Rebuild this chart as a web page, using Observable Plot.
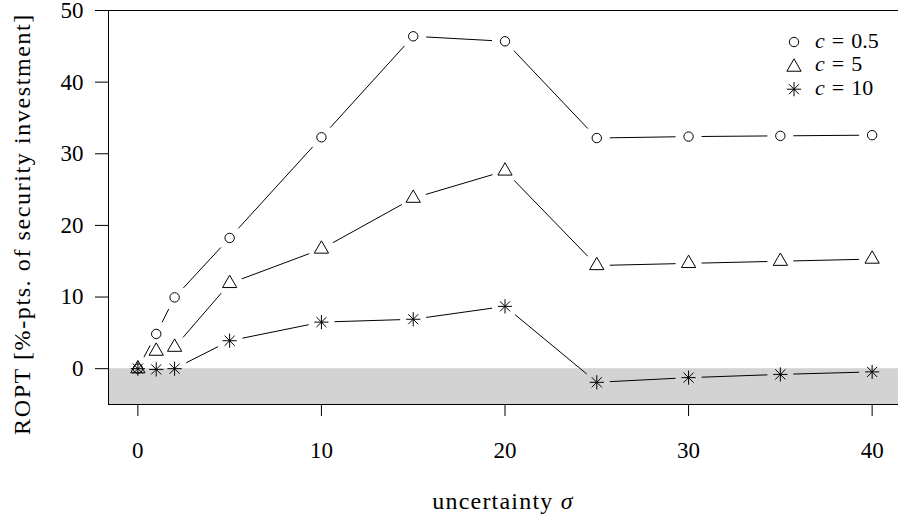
<!DOCTYPE html>
<html><head><meta charset="utf-8">
<script src="https://cdn.jsdelivr.net/npm/d3@7"></script>
<script src="https://cdn.jsdelivr.net/npm/@observablehq/plot@0.6"></script>
<style>
html,body{margin:0;padding:0;background:#fff;}
#chart{position:relative;width:898px;height:518px;overflow:hidden;}
#chart svg{display:block;}
</style></head><body><div id="chart"></div>
<script>
// ---- data ----
const sigma = [0, 1, 2, 5, 10, 15, 20, 25, 30, 35, 40];
const roptC05 = [0, 4.85, 9.95, 18.25, 32.3, 46.4, 45.7, 32.2, 32.4, 32.5, 32.6];
const roptC5  = [0, 2.45, 3.0, 11.9, 16.7, 23.8, 27.6, 14.4, 14.7, 15.0, 15.3];
const roptC10 = [0, -0.1, 0, 3.9, 6.5, 6.9, 8.7, -1.9, -1.25, -0.8, -0.45];
const costLabels = ["0.5", "5", "10"];
const xTicks = [0, 10, 20, 30, 40];
const yTicks = [0, 10, 20, 30, 40, 50];
const xDomain = [-1.6, 41.6];
const yDomain = [-5, 50];
const shadeBand = [{lo: -5, hi: 0}];
const xLabel = "uncertainty ";
const xLabelMath = "σ";
const yLabel = "ROPT [%-pts. of security investment]";

const seriesValues = [roptC05, roptC5, roptC10];
const series = costLabels.map((c, k) => ({key: c, values: seriesValues[k]}));
const points = series.flatMap(s => sigma.map((x, i) => ({x, y: s.values[i], key: s.key})));
const segments = series.flatMap(s => sigma.slice(1).map((x, i) => ({
  x1: sigma[i], y1: s.values[i], x2: x, y2: s.values[i + 1], key: s.key
})));
const ptsOf = k => points.filter(d => d.key === k);

const font = "'Liberation Serif', 'Times New Roman', serif";

const chart = Plot.plot({
  width: 898, height: 518,
  marginLeft: 108, marginRight: 0, marginTop: 10, marginBottom: 114,
  style: {fontFamily: font, fontSize: "23px", color: "black", background: "white", overflow: "visible"},
  x: {domain: xDomain, range: [108, 901]},
  y: {domain: yDomain, range: [404, 10]},
  marks: [
    Plot.rect(shadeBand, {x1: () => xDomain[0], x2: () => xDomain[1], y1: "lo", y2: "hi", fill: "#d3d3d3"}),
    Plot.arrow(segments, {x1: "x1", y1: "y1", x2: "x2", y2: "y2", inset: 13, headLength: 0, bend: 0,
      stroke: "black", strokeWidth: 1, strokeLinecap: "butt"}),
    Plot.dot(ptsOf("0.5"), {x: "x", y: "y", symbol: "circle", r: 4.7, stroke: "black", strokeWidth: 1, fill: "none"}),
    Plot.dot(ptsOf("5"), {x: "x", y: "y", symbol: "triangle", r: 5.3, stroke: "black", strokeWidth: 1, fill: "none"}),
    Plot.dot(ptsOf("10"), {x: "x", y: "y", symbol: "plus", r: 4.65, stroke: "black", strokeWidth: 1, fill: "none"}),
    Plot.dot(ptsOf("10"), {x: "x", y: "y", symbol: "times", r: 4.65, stroke: "black", strokeWidth: 1, fill: "none"}),
    Plot.ruleY([yDomain[0], yDomain[1]], {stroke: "black", strokeWidth: 1}),
    Plot.ruleX([xDomain[0]], {stroke: "black", strokeWidth: 1}),
    Plot.axisX({ticks: xTicks, tickSize: 12, tickPadding: 25, tickFormat: d => String(d), label: null, stroke: "black"}),
    Plot.axisY({ticks: yTicks, tickSize: 13, tickPadding: 12, tickFormat: d => String(d), label: null, stroke: "black"})
  ]
});
document.getElementById("chart").appendChild(chart);

// ---- axis titles and legend ----
const svg = d3.select(chart);
const g = svg.append("g").attr("font-family", font).attr("fill", "black");
g.append("text").attr("transform", "translate(30,224) rotate(-90)").attr("text-anchor", "middle")
  .attr("font-size", 24).attr("letter-spacing", "1.6px").text(yLabel);
const xl = g.append("text").attr("x", 503).attr("y", 509).attr("text-anchor", "middle")
  .attr("font-size", 24).attr("letter-spacing", "1.2px");
xl.append("tspan").text(xLabel);
xl.append("tspan").attr("font-style", "italic").text(xLabelMath);

const legendSymbols = [d3.symbolCircle, d3.symbolTriangle, null];
const legendSizes = [Math.PI * 4.7 * 4.7, Math.PI * 5.3 * 5.3, Math.PI * 4.65 * 4.65];
costLabels.forEach((c, k) => {
  const yc = 42 + k * 23.6;
  const sg = g.append("g").attr("transform", `translate(794,${yc + (k === 1 ? 1.5 : 0)})`).attr("fill", "none").attr("stroke", "black");
  if (legendSymbols[k]) sg.append("path").attr("d", d3.symbol(legendSymbols[k], legendSizes[k])());
  else {
    sg.append("path").attr("d", d3.symbol(d3.symbolPlus, legendSizes[k])());
    sg.append("path").attr("d", d3.symbol(d3.symbolTimes, legendSizes[k])());
  }
  const t = g.append("text").attr("x", 815).attr("y", yc + 5.5).attr("text-anchor", "start").attr("font-size", 22);
  t.append("tspan").attr("font-style", "italic").text("c");
  t.append("tspan").attr("dx", 7).text("=");
  t.append("tspan").attr("dx", 7).text(c);
});
</script></body></html>
